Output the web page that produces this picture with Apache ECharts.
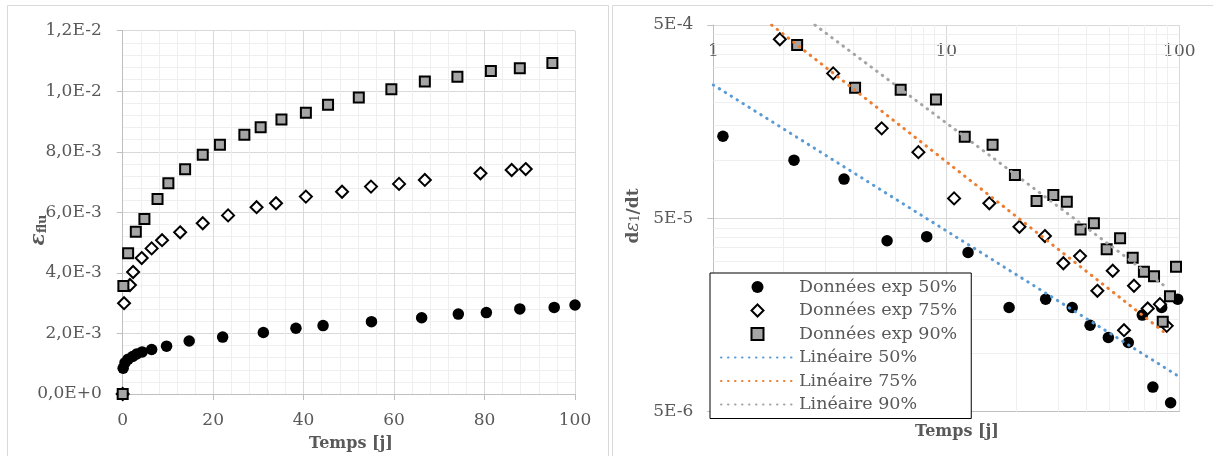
<!DOCTYPE html>
<html>
<head>
<meta charset="utf-8">
<script src="https://cdn.jsdelivr.net/npm/echarts@6/dist/echarts.min.js"></script>
<style>
html,body{margin:0;padding:0;background:#fff;}
#c{width:1213px;height:456px;}
</style>
</head>
<body>
<div id="c"></div>
<script>
// ---------- Left panel: creep strain vs time (linear axes) ----------
const leftX50 = [0, 0.1, 0.5, 1.2, 2.2, 3.1, 4.3, 6.4, 9.7, 14.7, 22.1, 31.1, 38.3, 44.3, 55.0, 66.1, 74.2, 80.4, 87.8, 95.4, 100];
const leftY50 = [0, 0.85e-3, 1.03e-3, 1.15e-3, 1.24e-3, 1.32e-3, 1.39e-3, 1.47e-3, 1.58e-3, 1.75e-3, 1.88e-3, 2.03e-3, 2.17e-3, 2.26e-3, 2.39e-3, 2.52e-3, 2.64e-3, 2.69e-3, 2.81e-3, 2.86e-3, 2.94e-3];
const leftX75 = [0, 0.3, 1.6, 2.3, 4.2, 6.4, 8.7, 12.7, 17.7, 23.3, 29.6, 33.9, 40.5, 48.5, 54.9, 61.1, 66.8, 79.1, 86.0, 89.1];
const leftY75 = [0, 3.0e-3, 3.6e-3, 4.03e-3, 4.49e-3, 4.81e-3, 5.08e-3, 5.34e-3, 5.64e-3, 5.9e-3, 6.17e-3, 6.3e-3, 6.52e-3, 6.68e-3, 6.85e-3, 6.94e-3, 7.07e-3, 7.29e-3, 7.4e-3, 7.43e-3];
const leftX90 = [0, 0.15, 1.2, 2.9, 4.8, 7.7, 10.1, 13.8, 17.7, 21.5, 26.9, 30.5, 35.1, 40.5, 45.4, 52.2, 59.4, 66.8, 74.0, 81.4, 87.8, 95.0];
const leftY90 = [0, 3.57e-3, 4.65e-3, 5.36e-3, 5.78e-3, 6.44e-3, 6.96e-3, 7.42e-3, 7.9e-3, 8.23e-3, 8.56e-3, 8.81e-3, 9.07e-3, 9.29e-3, 9.55e-3, 9.79e-3, 1.007e-2, 1.032e-2, 1.048e-2, 1.067e-2, 1.076e-2, 1.093e-2];

// ---------- Right panel: strain rate vs time (log-log) ----------
const rightX50 = [1.1, 2.22, 3.64, 5.57, 8.24, 12.4, 18.6, 26.7, 34.7, 41.4, 49.6, 60.4, 69.4, 77, 84, 91.8, 98.4];
const rightY50 = [1.33e-4, 1.0e-4, 7.98e-5, 3.83e-5, 4.02e-5, 3.33e-5, 1.73e-5, 1.91e-5, 1.73e-5, 1.40e-5, 1.21e-5, 1.14e-5, 1.58e-5, 6.7e-6, 1.73e-5, 5.56e-6, 1.91e-5];
const rightX75 = [1.93, 3.27, 5.28, 7.59, 10.8, 15.3, 20.6, 26.5, 31.8, 37.5, 44.5, 51.8, 57.9, 63.9, 73.2, 82.6, 88.3];
const rightY75 = [4.22e-4, 2.81e-4, 1.46e-4, 1.10e-4, 6.34e-5, 5.98e-5, 4.52e-5, 4.05e-5, 2.93e-5, 3.19e-5, 2.11e-5, 2.68e-5, 1.32e-5, 2.24e-5, 1.71e-5, 1.80e-5, 1.39e-5];
const rightX90 = [2.29, 4.06, 6.37, 9.03, 12.0, 15.8, 19.7, 24.4, 28.8, 32.9, 37.7, 43.0, 48.8, 55.7, 63.1, 70.5, 77.9, 84.9, 91.2, 96.8];
const rightY90 = [3.94e-4, 2.37e-4, 2.31e-4, 2.06e-4, 1.32e-4, 1.20e-4, 8.38e-5, 6.15e-5, 6.6e-5, 6.1e-5, 4.38e-5, 4.71e-5, 3.46e-5, 3.94e-5, 3.13e-5, 2.65e-5, 2.51e-5, 1.46e-5, 1.98e-5, 2.81e-5];
// trend lines (end points)
const trendX50 = [1.0, 98];
const trendY50 = [2.45e-4, 7.7e-6];
const trendX75 = [1.78, 85.3];
const trendY75 = [5.0e-4, 1.30e-5];
const trendX90 = [2.73, 88];
const trendY90 = [5.0e-4, 2.2e-5];

const seriesNames = ['Données exp 50%', 'Données exp 75%', 'Données exp 90%', 'Linéaire 50%', 'Linéaire 75%', 'Linéaire 90%'];
const rightXTicks = ['1', '10', '100'];
const rightYTicks = ['5E-6', '5E-5', '5E-4'];
const minorFactors = [2, 3, 4, 5, 6, 7, 8, 9];

// log-axis helpers: right axes are decades counted from their minimum
const X_MIN = 1, Y_MIN = 5e-6;
const lx = v => Math.log10(v / X_MIN);
const ly = v => Math.log10(v / Y_MIN);

const pairs = (xs, ys) => xs.map((x, i) => [x, ys[i]]);
const logPairs = (xs, ys) => xs.map((x, i) => [lx(x), ly(ys[i])]);

function sci(v) {
  if (Math.abs(v) < 1e-12) return '0,0E+0';
  let e = Math.floor(Math.log10(v) + 1e-6);
  let m = v / Math.pow(10, e);
  let s = m.toFixed(1);
  if (s === '10.0') { s = '1.0'; e += 1; }
  return s.replace('.', ',') + 'E' + (e < 0 ? '-' : '+') + Math.abs(e);
}

const FONT = 'DejaVu Serif';
const LABEL = { color: '#595959', fontSize: 17, fontFamily: FONT };
const AXLINE = { show: true, lineStyle: { color: '#bfbfbf', width: 1 } };
const SPLIT = { show: true, lineStyle: { color: '#d9d9d9', width: 1 } };
const MINOR = { show: true, lineStyle: { color: '#efefef', width: 1 } };

const circleStyle = { color: '#000', opacity: 1 };
const diamondStyle = { color: '#fff', borderColor: '#000', borderWidth: 2, opacity: 1 };
const squareStyle = { color: '#a5a5a5', borderColor: '#000', borderWidth: 2, opacity: 1 };

const minorLines = [];
[0, 1].forEach(d => minorFactors.forEach(k => {
  minorLines.push({ xAxis: d + Math.log10(k) });
  minorLines.push({ yAxis: d + Math.log10(k) });
}));

function dotted(color) {
  return { color: color, width: 3, type: [0.5, 6.5], cap: 'round' };
}
const hiddenItem = { color: 'rgba(0,0,0,0)', borderColor: 'rgba(0,0,0,0)', borderWidth: 0 };

const chart = echarts.init(document.getElementById('c'), null, { renderer: 'canvas' });
chart.setOption({
  animation: false,
  backgroundColor: '#fff',
  grid: [
    { left: 122.7, right: 638, top: 30.7, bottom: 62 },
    { left: 713.3, right: 33.7, top: 25, bottom: 44.3 }
  ],
  xAxis: [
    {
      gridIndex: 0, type: 'value', min: 0, max: 100, interval: 20,
      axisLine: AXLINE, axisTick: { show: true, length: 6, lineStyle: { color: '#bfbfbf' } },
      axisLabel: Object.assign({ margin: 18 }, LABEL),
      splitLine: SPLIT, minorTick: { show: false, splitNumber: 5 }, minorSplitLine: MINOR
    },
    {
      gridIndex: 1, type: 'value', position: 'top', min: 0, max: 2, interval: 1,
      axisLine: AXLINE, axisTick: { show: false },
      axisLabel: Object.assign({ inside: true, margin: 18,
        formatter: v => rightXTicks[Math.round(v)] }, LABEL),
      splitLine: SPLIT
    }
  ],
  yAxis: [
    {
      gridIndex: 0, type: 'value', min: 0, max: 0.012, interval: 0.002,
      axisLine: AXLINE, axisTick: { show: true, length: 6, lineStyle: { color: '#bfbfbf' } },
      axisLabel: Object.assign({ margin: 21, formatter: sci }, LABEL),
      splitLine: SPLIT, minorTick: { show: false, splitNumber: 5 }, minorSplitLine: MINOR
    },
    {
      gridIndex: 1, type: 'value', min: 0, max: 2, interval: 1,
      axisLine: AXLINE, axisTick: { show: true, length: 6, lineStyle: { color: '#bfbfbf' } },
      axisLabel: Object.assign({ margin: 20, formatter: v => rightYTicks[Math.round(v)] }, LABEL),
      splitLine: SPLIT
    }
  ],
  legend: {
    orient: 'vertical', left: 710, top: 273,
    padding: [5, 14, 5, 10], itemGap: 5.5, itemWidth: 73, itemHeight: 12,
    backgroundColor: '#fff', borderColor: '#000', borderWidth: 1,
    textStyle: { color: '#595959', fontSize: 17.5, fontFamily: FONT },
    data: [
      { name: seriesNames[0], icon: 'circle' },
      { name: seriesNames[1], icon: 'path://M5,0L10,5L5,10L0,5Z' },
      { name: seriesNames[2], icon: 'path://M0,0L10,0L10,10L0,10Z' },
      { name: seriesNames[3], itemStyle: hiddenItem },
      { name: seriesNames[4], itemStyle: hiddenItem },
      { name: seriesNames[5], itemStyle: hiddenItem }
    ]
  },
  series: [
    { name: 'l50', type: 'scatter', xAxisIndex: 0, yAxisIndex: 0, symbol: 'circle', symbolSize: 11.5, itemStyle: circleStyle, data: pairs(leftX50, leftY50) },
    { name: 'l75', type: 'scatter', xAxisIndex: 0, yAxisIndex: 0, symbol: 'diamond', symbolSize: 12, itemStyle: diamondStyle, data: pairs(leftX75, leftY75) },
    { name: 'l90', type: 'scatter', xAxisIndex: 0, yAxisIndex: 0, symbol: 'rect', symbolSize: 10, itemStyle: squareStyle, data: pairs(leftX90, leftY90) },
    { name: 'minor', type: 'line', xAxisIndex: 1, yAxisIndex: 1, data: [], silent: true,
      markLine: { silent: true, z: 1, symbol: ['none', 'none'], label: { show: false },
        lineStyle: { color: '#efefef', type: 'solid', width: 1 }, emphasis: { disabled: true }, data: minorLines } },
    { name: seriesNames[0], type: 'scatter', xAxisIndex: 1, yAxisIndex: 1, symbol: 'circle', symbolSize: 11.5, itemStyle: circleStyle, data: logPairs(rightX50, rightY50) },
    { name: seriesNames[1], type: 'scatter', xAxisIndex: 1, yAxisIndex: 1, symbol: 'diamond', symbolSize: 12, itemStyle: diamondStyle, data: logPairs(rightX75, rightY75) },
    { name: seriesNames[2], type: 'scatter', xAxisIndex: 1, yAxisIndex: 1, symbol: 'rect', symbolSize: 10, itemStyle: squareStyle, data: logPairs(rightX90, rightY90) },
    { name: seriesNames[3], type: 'line', xAxisIndex: 1, yAxisIndex: 1, symbol: 'none', z: 3, lineStyle: dotted('#5b9bd5'), itemStyle: { color: '#5b9bd5' }, data: logPairs(trendX50, trendY50) },
    { name: seriesNames[4], type: 'line', xAxisIndex: 1, yAxisIndex: 1, symbol: 'none', z: 3, lineStyle: dotted('#ed7d31'), itemStyle: { color: '#ed7d31' }, data: logPairs(trendX75, trendY75) },
    { name: seriesNames[5], type: 'line', xAxisIndex: 1, yAxisIndex: 1, symbol: 'none', z: 3, lineStyle: dotted('#a5a5a5'), itemStyle: { color: '#a5a5a5' }, data: logPairs(trendX90, trendY90) }
  ],
  graphic: [
    { type: 'rect', silent: true, z: -10, shape: { x: 7.5, y: 5.5, width: 601, height: 470 }, style: { fill: 'none', stroke: '#d9d9d9', lineWidth: 1 } },
    { type: 'rect', silent: true, z: -10, shape: { x: 612.5, y: 5.5, width: 620, height: 470 }, style: { fill: 'none', stroke: '#d9d9d9', lineWidth: 1 } },
    { type: 'text', x: 351, y: 444, silent: true,
      style: { text: 'Temps [j]', fill: '#595959', font: 'bold 16px "DejaVu Serif"', align: 'center', verticalAlign: 'middle' } },
    { type: 'text', x: 957, y: 432, silent: true,
      style: { text: 'Temps [j]', fill: '#595959', font: 'bold 16px "DejaVu Serif"', align: 'center', verticalAlign: 'middle' } },
    { type: 'text', x: 37, y: 230, rotation: Math.PI / 2, silent: true,
      style: { text: '{e|ε}{s|flu}', align: 'center', verticalAlign: 'middle',
        rich: {
          e: { fill: '#595959', fontSize: 20, fontWeight: 'bold', fontStyle: 'italic', fontFamily: FONT, lineHeight: 24, verticalAlign: 'bottom' },
          s: { fill: '#595959', fontSize: 13, fontWeight: 'bold', fontFamily: FONT, lineHeight: 18, verticalAlign: 'bottom' }
        } } },
    { type: 'text', x: 630, y: 216, rotation: Math.PI / 2, silent: true,
      style: { text: '{b|d}{e|ε}{s|1}{b|/dt}', align: 'center', verticalAlign: 'middle',
        rich: {
          b: { fill: '#595959', fontSize: 17, fontWeight: 'bold', fontFamily: FONT, lineHeight: 24, verticalAlign: 'bottom' },
          e: { fill: '#595959', fontSize: 18, fontStyle: 'italic', fontFamily: FONT, lineHeight: 24, verticalAlign: 'bottom' },
          s: { fill: '#595959', fontSize: 12, fontFamily: FONT, lineHeight: 18, verticalAlign: 'bottom' }
        } } }
  ]
});
</script>
</body>
</html>
